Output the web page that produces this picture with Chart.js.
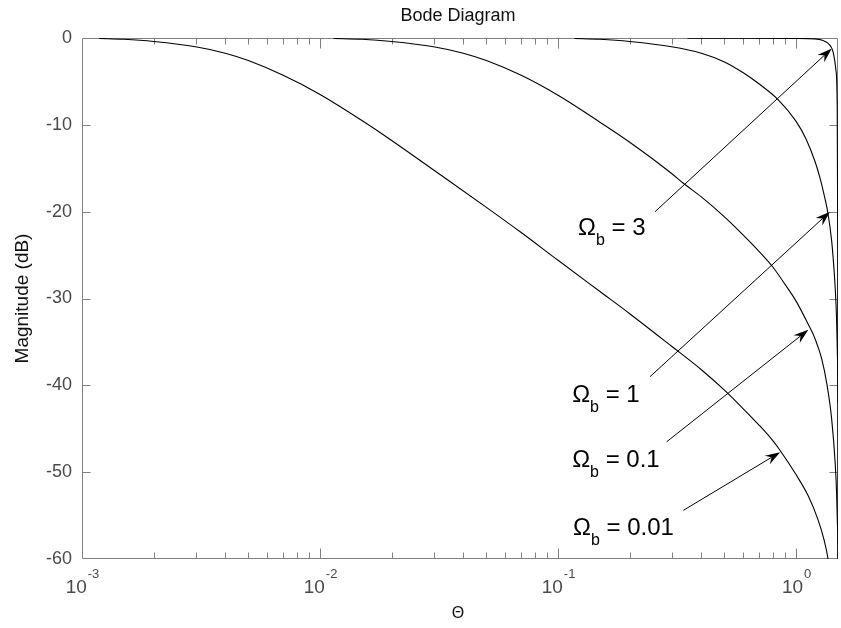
<!DOCTYPE html>
<html>
<head>
<meta charset="utf-8">
<title>Bode Diagram</title>
<script src="https://cdn.jsdelivr.net/npm/chart.js@4.4.1/dist/chart.umd.min.js"></script>
<style>
  html, body { margin: 0; padding: 0; background: #ffffff; }
  #wrap { width: 841px; height: 628px; }
</style>
</head>
<body>
<div id="wrap"><canvas id="bode" width="841" height="628"></canvas></div>
<script>
// Magnitude responses (dB) against digital frequency Θ, one curve per Ω_b
const thetaB001 = [0.00118, 0.0015, 0.002, 0.003, 0.004, 0.005, 0.007, 0.01, 0.015, 0.02, 0.03, 0.05, 0.07, 0.1, 0.15, 0.2, 0.3, 0.4, 0.5, 0.6, 0.7, 0.8, 0.857, 0.99, 1.123, 1.237, 1.311, 1.363, 1.43];
const magB001   = [-0.05, -0.15, -0.4, -1.0, -1.75, -2.6, -4.3, -6.5, -9.5, -11.8, -15.2, -19.5, -22.4, -25.6, -29.2, -31.75, -35.5, -38.2, -40.55, -42.7, -44.6, -46.4, -47.5, -50.1, -52.7, -55.5, -57.8, -60.0, -64.0];

const thetaB01 = [0.0114, 0.015, 0.02, 0.03, 0.04, 0.05, 0.07, 0.1, 0.15, 0.2, 0.3, 0.335, 0.4, 0.5, 0.6, 0.7, 0.8, 0.9, 1.0, 1.126, 1.2, 1.28, 1.35, 1.41, 1.46, 1.48, 1.49, 1.5, 1.505];
const magB01   = [-0.05, -0.15, -0.4, -1.0, -1.75, -2.6, -4.3, -6.6, -9.7, -12.0, -15.6, -16.7, -18.3, -20.6, -22.7, -24.6, -26.4, -28.4, -30.3, -33.0, -34.6, -36.9, -40.0, -43.8, -49.0, -52.5, -55.5, -60.0, -70.0];

const thetaB1 = [0.117, 0.15, 0.2, 0.3, 0.4, 0.5, 0.6, 0.7, 0.84, 1.0, 1.1, 1.2, 1.26, 1.31, 1.363, 1.41, 1.43, 1.46, 1.48, 1.49, 1.5, 1.505, 1.51];
const magB1   = [-0.05, -0.15, -0.4, -1.0, -1.75, -2.75, -4.0, -5.3, -7.1, -9.6, -11.6, -14.2, -16.1, -18.0, -20.3, -23.3, -25.2, -28.8, -32.5, -36.0, -42.0, -55.0, -70.0];

const thetaB3 = [0.35, 0.6, 1.0, 1.2, 1.3, 1.36, 1.43, 1.47, 1.487, 1.497, 1.502];
const magB3   = [-0.02, -0.03, -0.05, -0.1, -0.3, -0.6, -1.6, -3.7, -7.1, -25.0, -70.0];

// Axis limits and tick labels
const thetaMin = 0.001;
const thetaMax = 1.5;
const magMin = -60;
const magMax = 0;
const magStep = 10;
const decadeTicks = [0.001, 0.01, 0.1, 1];
const decadeExponents = ['-3', '-2', '-1', '0'];

// Curve labels (Ω_b values) with their arrows, in data coordinates
const labelValues = ['3', '1', '0.1', '0.01'];
const labelTheta  = [0.1213, 0.1146, 0.1146, 0.1155];
const labelMag    = [-22.7, -41.9, -49.4, -57.2];
const arrowFromTheta = [0.2556, 0.2435, 0.286, 0.336];
const arrowFromMag   = [-20.0, -39.0, -46.5, -54.4];
const arrowToTheta   = [1.413, 1.389, 1.126, 0.857];
const arrowToMag     = [-1.2, -20.0, -33.6, -47.7];

const FONT = "'Liberation Sans', Arial, Helvetica, sans-serif";
const axisColor = '#808080';
const tickTextColor = '#4a4a4a';

function toPoints(xs, ys) {
  return xs.map((x, i) => ({ x: x, y: ys[i] }));
}

function curve(xs, ys) {
  return {
    data: toPoints(xs, ys),
    borderColor: '#000000',
    borderWidth: 1.1,
    pointRadius: 0,
    fill: false,
    cubicInterpolationMode: 'monotone'
  };
}

// Box, inward ticks and the power-of-ten tick labels
const axesPlugin = {
  id: 'matlabAxes',
  beforeDatasetsDraw(chart) {
    const { ctx, chartArea: a, scales: { x, y } } = chart;
    const L = Math.round(a.left) + 0.5, R = Math.round(a.right) - 0.5;
    const T = Math.round(a.top) + 0.5, B = Math.round(a.bottom) - 0.5;
    ctx.save();
    ctx.strokeStyle = axisColor;
    ctx.lineWidth = 1;
    ctx.beginPath();
    ctx.moveTo(L, T); ctx.lineTo(R, T); ctx.lineTo(R, B); ctx.lineTo(L, B); ctx.closePath();
    // y ticks, both sides
    for (let v = magMin + magStep; v < magMax; v += magStep) {
      const py = Math.round(y.getPixelForValue(v)) + 0.5;
      ctx.moveTo(L, py); ctx.lineTo(L + 8, py);
      ctx.moveTo(R, py); ctx.lineTo(R - 8, py);
    }
    // x ticks: decades and minor 2..9 on bottom and top
    decadeTicks.forEach((d) => {
      for (let m = 1; m <= 9; m++) {
        const v = d * m;
        if (v <= thetaMin || v >= thetaMax) continue;
        const px = Math.round(x.getPixelForValue(v)) + 0.5;
        const len = m === 1 ? 10 : 6;
        ctx.moveTo(px, B); ctx.lineTo(px, B - len);
        ctx.moveTo(px, T); ctx.lineTo(px, T + len);
      }
    });
    ctx.stroke();

    // x tick labels as 10 with a raised exponent
    ctx.fillStyle = tickTextColor;
    ctx.textBaseline = 'alphabetic';
    ctx.textAlign = 'left';
    decadeTicks.forEach((d, i) => {
      const px = x.getPixelForValue(d);
      ctx.font = '19px ' + FONT;
      const wBase = ctx.measureText('10').width;
      ctx.font = '13px ' + FONT;
      const wExp = ctx.measureText(decadeExponents[i]).width;
      const x0 = px - (wBase + wExp) / 2;
      ctx.font = '19px ' + FONT;
      ctx.fillText('10', x0, 593);
      ctx.font = '13px ' + FONT;
      ctx.fillText(decadeExponents[i], x0 + wBase + 1, 578);
    });
    ctx.restore();
  },
  afterDraw(chart) {
    const { ctx, chartArea: a } = chart;
    const cx = (a.left + a.right) / 2;
    ctx.save();
    ctx.fillStyle = '#111111';
    ctx.textAlign = 'center';
    ctx.textBaseline = 'alphabetic';
    ctx.font = '18px ' + FONT;
    ctx.fillText('Bode Diagram', cx - 2, 21);
    ctx.font = '16px ' + FONT;
    ctx.fillText('Θ', cx - 2, 618);
    ctx.translate(23, (a.top + a.bottom) / 2);
    ctx.rotate(-Math.PI / 2);
    ctx.textBaseline = 'middle';
    ctx.font = '19px ' + FONT;
    ctx.fillText('Magnitude (dB)', 0, 0);
    ctx.restore();
  }
};

// Ω_b labels with arrows pointing at their curves
const labelPlugin = {
  id: 'omegaLabels',
  afterDatasetsDraw(chart) {
    const { ctx, scales: { x, y } } = chart;
    ctx.save();
    ctx.fillStyle = '#000000';
    ctx.strokeStyle = '#000000';
    ctx.lineWidth = 1;
    labelValues.forEach((val, i) => {
      const x1 = x.getPixelForValue(arrowFromTheta[i]);
      const y1 = y.getPixelForValue(arrowFromMag[i]);
      const x2 = x.getPixelForValue(arrowToTheta[i]);
      const y2 = y.getPixelForValue(arrowToMag[i]);
      const ang = Math.atan2(y2 - y1, x2 - x1);
      const headLen = 15, headHalf = 5, notch = 10;
      ctx.beginPath();
      ctx.moveTo(x1, y1);
      ctx.lineTo(x2 - Math.cos(ang) * notch, y2 - Math.sin(ang) * notch);
      ctx.stroke();
      const bx = x2 - Math.cos(ang) * headLen, by = y2 - Math.sin(ang) * headLen;
      const nx = -Math.sin(ang), ny = Math.cos(ang);
      ctx.beginPath();
      ctx.moveTo(x2, y2);
      ctx.lineTo(bx + nx * headHalf, by + ny * headHalf);
      ctx.lineTo(x2 - Math.cos(ang) * notch, y2 - Math.sin(ang) * notch);
      ctx.lineTo(bx - nx * headHalf, by - ny * headHalf);
      ctx.closePath();
      ctx.fill();

      const lx = x.getPixelForValue(labelTheta[i]);
      const ly = y.getPixelForValue(labelMag[i]);
      ctx.textAlign = 'left';
      ctx.textBaseline = 'alphabetic';
      ctx.font = '24px ' + FONT;
      ctx.fillText('Ω', lx, ly);
      let cx = lx + ctx.measureText('Ω').width;
      ctx.font = '16px ' + FONT;
      ctx.fillText('b', cx, ly + 10);
      cx += ctx.measureText('b').width;
      ctx.font = '24px ' + FONT;
      ctx.fillText(' = ' + val, cx, ly);
    });
    ctx.restore();
  }
};

new Chart(document.getElementById('bode'), {
  type: 'line',
  data: {
    datasets: [
      curve(thetaB001, magB001),
      curve(thetaB01, magB01),
      curve(thetaB1, magB1),
      curve(thetaB3, magB3)
    ]
  },
  options: {
    responsive: false,
    animation: false,
    devicePixelRatio: 1,
    layout: { padding: { top: 38, right: 3, left: 0, bottom: 0 } },
    plugins: { legend: { display: false }, title: { display: false }, tooltip: { enabled: false } },
    scales: {
      x: {
        type: 'logarithmic',
        min: thetaMin,
        max: thetaMax,
        grid: { display: false, drawTicks: false },
        border: { display: false },
        ticks: { display: false },
        afterFit(scale) { scale.height = 69; }
      },
      y: {
        type: 'linear',
        min: magMin,
        max: magMax,
        grid: { display: false, drawTicks: false },
        border: { display: false },
        ticks: {
          stepSize: magStep,
          padding: 10,
          color: tickTextColor,
          font: { family: FONT, size: 18 }
        },
        afterFit(scale) { scale.width = 82; }
      }
    }
  },
  plugins: [axesPlugin, labelPlugin]
});
</script>
</body>
</html>
